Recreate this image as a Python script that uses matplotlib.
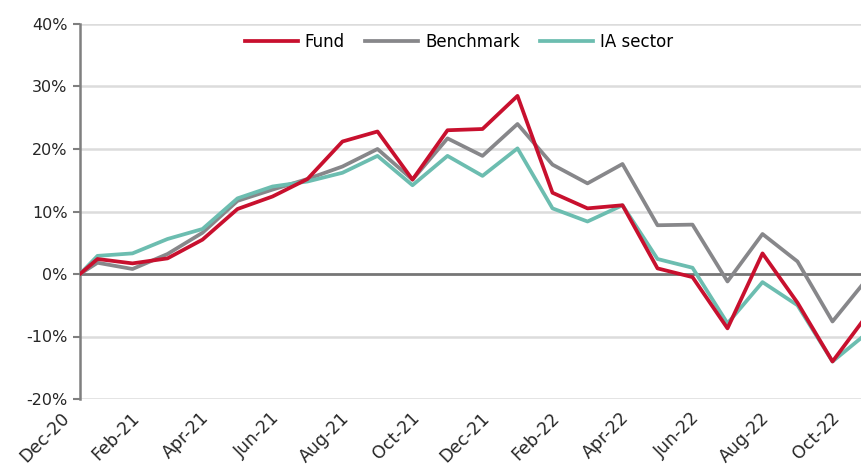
import matplotlib
matplotlib.use("Agg")
import matplotlib.pyplot as plt
import matplotlib.transforms as mtransforms
import numpy as np

# month labels on the axis (every other month is shown)
months = ["Dec-20", "Jan-21", "Feb-21", "Mar-21", "Apr-21", "May-21", "Jun-21",
          "Jul-21", "Aug-21", "Sep-21", "Oct-21", "Nov-21", "Dec-21", "Jan-22",
          "Feb-22", "Mar-22", "Apr-22", "May-22", "Jun-22", "Jul-22", "Aug-22",
          "Sep-22", "Oct-22"]

# cumulative performance, % (start point then monthly values)
fund = [0.0, 2.4, 1.7, 2.5, 5.5, 10.4, 12.4, 15.2, 21.2, 22.8, 15.1, 23.0,
        23.2, 28.5, 13.0, 10.5, 11.0, 0.9, -0.5, -8.7, 3.3, -4.6, -14.0, -6.5]
benchmark = [0.0, 1.8, 0.8, 3.2, 6.6, 11.7, 13.5, 15.2, 17.2, 20.0, 15.1, 21.7,
             18.9, 24.0, 17.5, 14.5, 17.6, 7.8, 7.9, -1.2, 6.4, 2.0, -7.6, -0.7]
ia_sector = [0.0, 2.9, 3.3, 5.6, 7.2, 12.1, 14.0, 14.8, 16.2, 18.9, 14.2, 18.9,
             15.7, 20.1, 10.5, 8.4, 11.0, 2.4, 1.0, -7.9, -1.3, -5.0, -14.0, -9.4]

# start point sits on the axis, monthly points fall half-way between ticks
x = np.r_[0, np.arange(len(fund) - 1) + 0.5]

plt.rcParams['font.family'] = ['DejaVu Sans']

fig = plt.figure(figsize=(8.61, 4.68), dpi=100)
ax = fig.add_axes([80 / 861, 69 / 468, 781 / 861, 375 / 468])

for y in [-20, -10, 10, 20, 30, 40]:
    ax.axhline(y, color="#dcdcdc", lw=1.8, zorder=0)
ax.axhline(0, color="#767676", lw=2.0, zorder=1)

ax.plot(x, fund, color="#c8102e", lw=2.7, label="Fund", zorder=4)
ax.plot(x, benchmark, color="#87878a", lw=2.7, label="Benchmark", zorder=3)
ax.plot(x, ia_sector, color="#6cbdb0", lw=2.7, label="IA sector", zorder=3.5)

ax.set_xlim(0, 781 / 35)
ax.set_ylim(-20, 40)

ax.set_yticks(np.arange(-20, 41, 10))
ax.set_yticklabels([f"{v}%" for v in range(-20, 41, 10)], fontsize=11.5, color="#262626")
ax.tick_params(axis="y", length=5, width=1.5, color="#7f7f7f", pad=4)

ticks = np.arange(0, len(months), 2)
ax.set_xticks(ticks)
ax.set_xticklabels([months[i] for i in ticks], rotation=45, ha="right",
                   rotation_mode="anchor", fontsize=12.5, color="#262626")
ax.tick_params(axis="x", length=0, pad=7)
shift = mtransforms.ScaledTranslation(-20 / 100, 0, fig.dpi_scale_trans)
for lab in ax.get_xticklabels():
    lab.set_transform(lab.get_transform() + shift)

for s in ["top", "right", "bottom"]:
    ax.spines[s].set_visible(False)
ax.spines["left"].set_color("#7f7f7f")
ax.spines["left"].set_linewidth(1.8)

ax.legend(loc="center", bbox_to_anchor=(0.485, 0.952), ncol=3, frameon=False,
          fontsize=12, handlelength=3.2, handletextpad=0.4, columnspacing=1.2)

fig.savefig("out.png", dpi=100)
